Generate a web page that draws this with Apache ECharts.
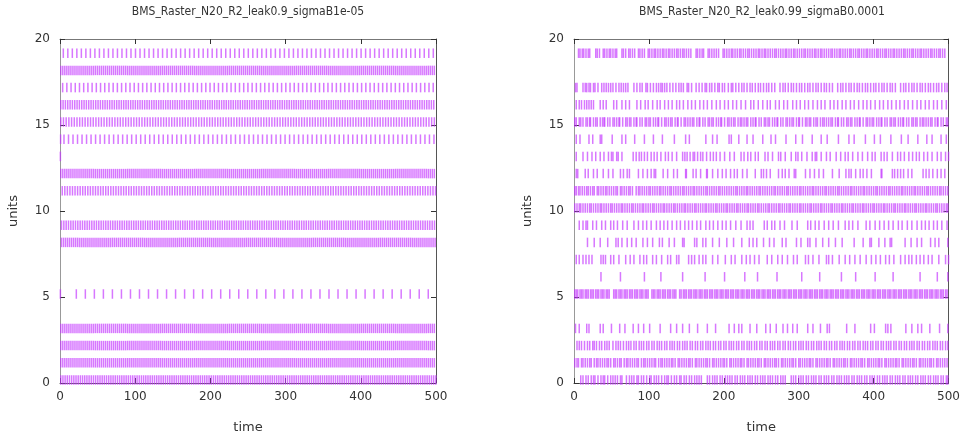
<!DOCTYPE html>
<html><head><meta charset="utf-8">
<script src="https://cdn.jsdelivr.net/npm/echarts@6/dist/echarts.min.js"></script>
<style>html,body{margin:0;padding:0;background:#fff}#c{width:963px;height:440px}</style>
</head><body><div id="c"></div><script>
const leftTitle = 'BMS_Raster_N20_R2_leak0.9_sigmaB1e-05';
const rightTitle = 'BMS_Raster_N20_R2_leak0.99_sigmaB0.0001';
const xTickStep = 100, yTickStep = 5;
// left panel: regular trains (unit, first spike, inter-spike interval)
const leftUnits = [0, 1, 2, 3, 5, 8, 9, 11, 12, 14, 15, 16, 17, 18, 19];
const leftFirst = [1, 1, 1, 1, 21.7, 2, 2, 3, 1, 5.3, 1, 1, 3.5, 1, 4.4];
const leftISI   = [2.9, 2.7, 2.7, 2.7, 12, 2.7, 3.1, 3.4, 2.7, 6, 3.6, 3.1, 5.6, 2.7, 6];
const leftExtraUnits = [5, 13, 14];
const leftExtraTimes = [0.5, 0.5, 0.8];
// right panel: spike times per unit
const r0 = [9,12,16,19,23,26,28,32,36,39,41,45,49,52,55,58,62,64,70,74,77,80,84,86,90,93,97,101,103,107,110,113,117,121,124,126,130,134,137,141,143,147,150,154,157,161,164,167,170,178,181,185,188,191,195,198,202,205,208,211,215,218,222,225,228,232,235,238,242,245,249,252,255,259,262,265,269,272,276,279,282,290,293,296,300,303,306,310,313,317,320,323,327,330,334,337,340,344,347,351,354,357,361,364,367,371,374,378,381,384,388,391,395,398,401,405,408,412,415,418,422,425,429,432,435,439,442,446,449,452,456,459,463,466,469,473,476,480,483,486,490,493,497,499];
const r1 = [1,4,6,10,12,15,18,21,23,27,30,32,35,38,41,44,46,49,53,55,58,61,63,67,70,72,75,78,81,84,86,90,93,95,98,101,104,107,109,113,116,118,121,124,127,130,132,135,139,141,144,147,150,153,155,158,162,164,167,170,173,176,178,181,185,187,190,193,196,199,201,204,208,210,213,216,219,222,224,227,231,233,236,239,242,245,247,250,254,256,259,262,265,268,270,273,277,279,282,285,288,291,293,296,300,302,305,308,311,314,316,319,323,325,328,331,334,337,339,342,346,348,351,354,357,360,362,365,369,371,374,377,380,383,385,388,392,394,397,400,403,406,408,411,415,417,420,423,426,429,431,434,438,440,443,446,449,452,454,457,461,463,466,469,472,475,477,480,484,486,489,492,495,498];
const r2 = [4,7,10,14,18,21,25,27,30,34,37,41,44,47,52,56,59,62,66,70,73,76,80,83,87,90,93,97,100,104,107,111,114,117,121,124,128,131,134,138,141,145,148,151,155,158,162,165,169,172,176,179,182,186,189,193,196,200,203,207,210,213,217,220,224,227,231,234,237,241,244,248,251,255,258,262,265,268,272,275,279,282,286,289,293,296,300,303,306,310,313,317,320,324,327,330,334,337,341,344,348,351,355,358,361,365,368,372,375,379,382,386,389,392,396,399,403,406,410,413,417,420,423,427,430,434,437,441,444,448,451,454,458,461,465,468,472,475,479,482,485,489,492,496,499];
const r3 = [2,7,17,20,35,39,50,61,68,79,86,93,101,115,129,137,145,154,165,178,189,207,214,220,224,235,244,256,262,270,279,285,292,298,312,319,329,338,341,364,375,396,401,416,419,423,443,451,459,464,475,488,499];
const r5 = [1,3,5,8,10,12,15,17,19,22,24,26,29,31,33,36,38,40,43,45,47,53,55,57,60,62,64,67,69,71,74,76,78,81,83,85,88,90,92,95,97,99,104,106,108,111,113,115,118,120,122,125,127,129,132,134,136,141,143,146,148,150,153,155,157,160,162,164,167,169,171,174,176,178,181,183,185,188,190,192,195,197,199,202,204,206,209,211,213,216,218,220,223,225,227,230,232,234,237,239,241,244,246,248,251,253,255,258,260,262,265,267,269,272,274,276,279,281,283,286,288,290,293,295,297,300,302,304,307,309,311,314,316,318,321,323,325,328,330,332,335,337,339,342,344,346,349,351,353,356,358,360,363,365,367,370,372,374,377,379,381,384,386,388,391,393,395,398,400,402,405,407,409,412,414,416,419,421,423,426,428,430,433,435,437,440,442,444,447,449,451,454,456,458,461,463,465,468,470,472,475,477,479,482,484,486,489,491,493,496,498];
const r6 = [36,62,94,116,145,175,201,228,245,271,304,328,357,376,402,426,462,485,499];
const r7 = [3,7,12,16,20,24,36,39,42,49,53,60,69,75,80,88,93,97,105,110,117,125,129,137,140,153,157,161,167,172,176,185,192,202,210,215,224,230,235,241,247,258,264,272,278,285,293,298,309,313,319,327,337,340,345,354,362,368,375,382,390,397,403,409,416,421,427,436,442,447,451,457,462,467,473,478,487,496,500];
const r8 = [18,27,35,45,56,59,64,71,77,83,92,98,105,114,118,127,134,145,147,161,164,172,176,185,194,204,213,224,234,239,244,253,261,267,278,283,297,303,312,315,323,332,340,349,358,374,386,395,397,407,415,422,424,442,450,458,464,476,482,487,499];
const r9 = [7,12,16,18,25,30,37,42,49,53,58,65,71,80,86,92,97,103,110,115,120,125,131,137,142,148,153,158,164,169,176,181,186,192,198,203,209,216,223,231,235,239,254,258,264,268,275,281,291,298,312,316,322,327,334,340,346,353,362,367,372,379,390,395,402,408,414,420,426,433,438,445,451,458,464,469,474,480,485,491,498];
const r10 = [1,4,7,9,12,15,18,21,23,26,29,32,35,37,40,43,46,49,51,54,57,60,63,65,68,71,74,77,79,82,85,88,91,93,96,99,102,105,107,110,113,116,119,121,124,127,130,133,135,138,141,144,147,149,152,155,158,161,163,166,169,172,175,177,180,183,186,189,191,194,197,200,203,205,208,211,214,217,219,222,225,228,231,233,236,239,242,245,247,250,253,256,259,261,264,267,270,273,275,278,281,284,287,289,292,295,298,301,303,306,309,312,315,317,320,323,326,329,331,334,337,340,343,345,348,351,354,357,359,362,365,368,371,373,376,379,382,385,387,390,393,396,399,401,404,407,410,413,415,418,421,424,427,429,432,435,438,441,443,446,449,452,455,457,460,463,466,469,471,474,477,480,483,485,488,491,494,497,499];
const r11 = [1,3,6,8,11,14,17,19,22,25,27,31,33,36,39,42,44,47,50,53,56,58,62,64,67,70,73,75,78,83,86,88,91,94,97,100,102,105,108,111,114,116,119,122,125,128,130,133,136,139,142,145,147,150,153,156,159,161,164,167,170,173,176,178,181,184,187,190,193,195,198,201,204,207,210,213,216,218,221,224,227,230,232,235,238,241,244,247,249,252,255,258,261,264,267,269,272,275,278,281,284,286,289,292,295,298,301,303,306,309,312,315,318,320,323,326,329,332,335,337,340,343,346,349,352,354,357,360,363,366,369,371,374,377,380,383,386,388,391,394,397,400,403,405,408,411,414,417,420,422,425,428,431,434,437,439,442,445,448,451,454,456,459,462,465,468,471,473,476,479,482,485,488,490,493,496,499];
const r12 = [3,5,15,19,26,31,39,46,52,62,66,71,74,86,92,98,103,107,109,119,125,133,138,149,150,159,163,169,177,178,185,192,198,203,209,214,218,225,231,242,250,253,257,262,273,278,282,287,294,296,309,315,321,327,333,345,354,363,367,370,376,382,386,391,397,410,411,425,428,432,436,440,446,451,466,470,474,479,485,490,495];
const r13 = [3,12,18,24,29,35,40,46,50,52,57,59,64,79,83,87,90,94,98,103,107,111,116,122,126,131,137,145,148,151,155,159,161,165,169,172,177,182,186,190,195,201,208,214,223,227,232,236,242,246,255,259,265,273,276,282,290,296,299,304,311,318,322,324,330,337,342,350,356,362,366,372,379,385,392,398,402,410,414,418,425,432,436,441,447,452,457,461,467,472,478,485,490,496,500];
const r14 = [3,8,20,25,35,37,51,64,69,81,94,106,118,134,149,154,176,185,191,207,210,220,231,239,252,263,269,283,296,305,318,330,338,353,367,374,389,401,409,423,437,446,459,471,478,490,497];
const r15 = [1,3,7,9,12,16,18,21,22,26,29,31,35,38,40,41,45,48,52,54,57,60,61,65,69,71,74,76,80,83,84,88,91,95,97,100,102,106,109,112,113,117,121,123,126,129,131,135,138,139,143,147,149,152,155,158,160,164,167,168,172,175,179,181,184,186,190,193,196,197,201,205,207,210,213,215,219,222,224,227,230,232,236,239,242,243,247,250,254,256,259,261,265,268,271,272,276,279,283,285,288,291,293,297,300,301,305,309,311,314,316,320,323,325,329,332,334,337,340,343,345,349,352,353,357,360,364,366,369,371,375,378,381,382,386,390,392,395,398,400,404,407,410,411,415,418,422,424,427,429,433,436,439,440,444,447,451,453,456,458,462,465,467,470,473,476,478,482,485,486,490,493,497,499];
const r16 = [3,7,10,14,17,20,23,26,35,39,43,53,57,64,69,74,84,89,95,99,105,111,115,121,126,131,137,141,146,152,157,162,168,173,178,184,190,195,201,206,212,217,223,229,236,240,246,252,258,262,269,274,280,285,292,297,302,308,313,319,325,330,335,342,347,352,358,363,369,374,380,386,391,396,402,408,413,419,424,430,435,441,446,452,458,463,469,474,480,485,491,497];
const r17 = [2,4,12,15,17,20,22,26,28,32,37,40,43,46,49,52,56,60,63,66,69,72,80,84,88,91,96,98,102,106,110,113,116,118,121,124,128,132,136,140,143,146,151,153,157,163,167,171,175,177,181,184,188,192,194,198,201,206,210,212,216,220,224,227,231,235,238,242,246,249,253,257,260,264,268,275,279,282,286,290,293,297,301,304,308,312,315,319,323,326,330,334,337,341,345,352,356,359,363,367,370,374,378,381,385,389,392,396,400,403,407,411,414,418,422,425,429,436,440,443,447,451,454,458,462,465,469,473,476,480,484,487,491,495,498];
const r19 = [6,8,11,13,16,19,21,29,31,34,39,41,44,47,49,52,55,57,64,66,69,73,75,78,81,86,88,91,94,99,101,104,107,109,112,115,118,120,123,126,128,131,134,137,139,142,145,147,150,153,156,163,165,168,171,173,179,181,184,187,190,193,199,201,204,207,210,212,215,218,221,223,226,229,232,234,237,240,243,246,248,251,254,256,259,262,265,268,270,273,276,279,282,284,287,290,293,295,298,301,304,307,309,312,315,318,321,323,326,329,331,334,337,340,343,345,348,351,354,356,359,362,365,368,370,373,376,379,381,384,387,390,392,395,398,401,404,406,409,412,415,417,420,423,426,428,431,434,437,440,442,445,448,451,453,456,459,462,464,467,470,473,476,478,481,484,487,489,492,495];
const rightUnits = [0, 1, 2, 3, 5, 6, 7, 8, 9, 10, 11, 12, 13, 14, 15, 16, 17, 19];
const rightTimes = [r0, r1, r2, r3, r5, r6, r7, r8, r9, r10, r11, r12, r13, r14, r15, r16, r17, r19];

function buildPeriodic(units, first, isi){
  const pts = [];
  units.forEach((u, i) => { for (let t = first[i]; t <= 500; t += isi[i]) pts.push([t, u]); });
  return pts;
}
const leftData = buildPeriodic(leftUnits, leftFirst, leftISI);
leftExtraUnits.forEach((u, i) => leftData.push([leftExtraTimes[i], u]));
const rightData = [];
rightUnits.forEach((u, i) => rightTimes[i].forEach(t => rightData.push([t, u])));

const FONT = 'DejaVu Sans';
const grids = [
  {left: 60, top: 39, width: 376, height: 344},
  {left: 574, top: 39, width: 376, height: 344}
];
const xAxes = [], yAxes = [];
[0, 1].forEach(g => {
  xAxes.push({gridIndex: g, type: 'value', min: 0, max: 500, interval: xTickStep,
    name: 'time', nameLocation: 'middle', nameGap: 38,
    nameTextStyle: {fontFamily: FONT, fontSize: 13, color: '#333'},
    axisLine: {onZero: false, lineStyle: {color: '#555', width: 1}},
    axisTick: {inside: true, length: 5, lineStyle: {color: '#333'}},
    axisLabel: {fontFamily: FONT, fontSize: 12, color: '#333', margin: 8},
    splitLine: {show: false}});
  xAxes.push({gridIndex: g, type: 'value', position: 'top', min: 0, max: 500, interval: xTickStep,
    axisLine: {show: true, onZero: false, lineStyle: {color: '#777', width: 1}},
    axisTick: {inside: true, length: 5, lineStyle: {color: '#333'}},
    axisLabel: {show: false}, splitLine: {show: false}});
  yAxes.push({gridIndex: g, type: 'value', min: 0, max: 20, interval: yTickStep,
    name: 'units', nameLocation: 'middle', nameGap: 40,
    nameTextStyle: {fontFamily: FONT, fontSize: 13, color: '#333'},
    axisLine: {show: true, onZero: false, lineStyle: {color: '#999', width: 1}},
    axisTick: {show: true, inside: true, length: 5, lineStyle: {color: '#333'}},
    axisLabel: {fontFamily: FONT, fontSize: 12, color: '#333', margin: 10},
    splitLine: {show: false}});
  yAxes.push({gridIndex: g, type: 'value', position: 'right', min: 0, max: 20, interval: yTickStep,
    axisLine: {show: true, onZero: false, lineStyle: {color: '#555', width: 1}},
    axisTick: {show: true, inside: true, length: 5, lineStyle: {color: '#333'}},
    axisLabel: {show: false}, splitLine: {show: false}});
});
const markStyle = {color: '#c436ff', opacity: 0.68};
const option = {
  animation: false,
  backgroundColor: '#fff',
  grid: grids,
  xAxis: xAxes,
  yAxis: yAxes,
  graphic: [
    {type: 'text', style: {x: 248, y: 6, text: leftTitle, textAlign: 'center', font: '12px "DejaVu Sans Condensed"', fill: '#333'}},
    {type: 'text', style: {x: 762, y: 6, text: rightTitle, textAlign: 'center', font: '12px "DejaVu Sans Condensed"', fill: '#333'}}
  ],
  series: [
    {type: 'scatter', xAxisIndex: 0, yAxisIndex: 0, data: leftData, symbol: 'rect', symbolSize: [1.5, 9.5], symbolOffset: [0, -3], itemStyle: markStyle, silent: true},
    {type: 'scatter', xAxisIndex: 2, yAxisIndex: 2, data: rightData, symbol: 'rect', symbolSize: [1.5, 9.5], symbolOffset: [0, -3], itemStyle: markStyle, silent: true}
  ]
};
echarts.init(document.getElementById('c'), null, {renderer: 'canvas'}).setOption(option);
</script></body></html>
